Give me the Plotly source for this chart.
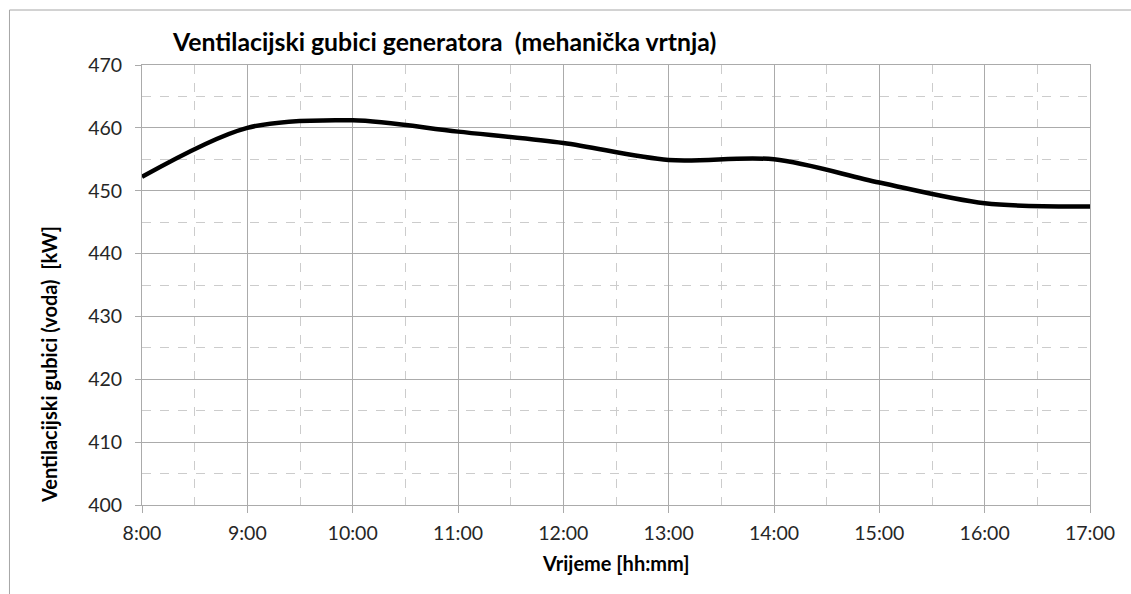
import plotly.graph_objects as go

# Hourly readings of generator ventilation losses
hours = [8, 9, 10, 11, 12, 13, 14, 15, 16, 17]
losses_kw = [452.2, 460.0, 461.2, 459.4, 457.6, 454.9, 455.0, 451.3, 448.0, 447.5]
tick_labels = ["8:00", "9:00", "10:00", "11:00", "12:00", "13:00",
               "14:00", "15:00", "16:00", "17:00"]

title_text = "Ventilacijski gubici generatora  (mehanička vrtnja)"
x_title = "Vrijeme [hh:mm]"
y_title = "Ventilacijski gubici (voda)  [kW]"

FONT = "Lato, Calibri, Arial, sans-serif"
GRID = "#ababab"
MINOR = "#cccccc"
TEXT = "#262626"

fig = go.Figure()
fig.add_trace(go.Scatter(
    x=hours, y=losses_kw, mode="lines",
    line=dict(color="black", width=4.5, shape="spline", smoothing=0.9),
    showlegend=False, hoverinfo="x+y",
))

fig.update_layout(
    width=1131, height=594,
    margin=dict(l=142, r=41, t=65, b=89),
    paper_bgcolor="white", plot_bgcolor="white",
    font=dict(family=FONT, size=19.5, color=TEXT),
    xaxis=dict(
        range=[8, 17], tickvals=hours, ticktext=tick_labels,
        showgrid=True, gridcolor=GRID, gridwidth=1,
        showline=True, linecolor=GRID, linewidth=1, mirror=True,
        ticks="outside", ticklen=7, tickcolor=GRID,
        tickfont=dict(size=19.5, color=TEXT), ticklabelstandoff=4,
        minor=dict(dtick=0.5, tick0=8, showgrid=True, gridcolor=MINOR,
                   griddash="dash", gridwidth=1),
        zeroline=False,
    ),
    yaxis=dict(
        range=[400, 470], dtick=10, tick0=400,
        showgrid=True, gridcolor=GRID, gridwidth=1,
        showline=True, linecolor=GRID, linewidth=1, mirror=True,
        ticks="outside", ticklen=6, tickcolor=GRID,
        tickfont=dict(size=19.5, color=TEXT), ticklabelstandoff=9,
        minor=dict(dtick=5, tick0=400, showgrid=True, gridcolor=MINOR,
                   griddash="dash", gridwidth=1),
        zeroline=False,
    ),
    shapes=[dict(
        type="rect", xref="paper", yref="paper",
        x0=-0.1398, x1=1.2, y0=-0.4, y1=1.125,
        line=dict(color="#a6a6a6", width=1), fillcolor="rgba(0,0,0,0)",
        layer="below",
    )],
    annotations=[
        dict(text=f"<b>{title_text}</b>", xref="paper", yref="paper",
             x=(170 - 142) / 948, y=1 + (65 - 41) / 440,
             xanchor="left", yanchor="middle", showarrow=False,
             font=dict(family=FONT, size=24.8, color="black")),
        dict(text=f"<b>{x_title}</b>", xref="paper", yref="paper",
             x=0.5, y=-(563 - 505) / 440,
             xanchor="center", yanchor="middle", showarrow=False,
             font=dict(family=FONT, size=20, color="black")),
        dict(text=f"<b>{y_title}</b>", xref="paper", yref="paper",
             x=(49 - 142) / 948, y=(505 - 365) / 440, textangle=-90,
             xanchor="center", yanchor="middle", showarrow=False,
             font=dict(family=FONT, size=20, color="black")),
    ],
)

fig.write_html("out.html")
